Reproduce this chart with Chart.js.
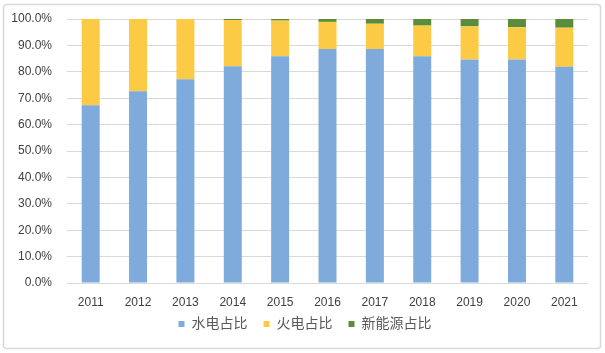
<!DOCTYPE html>
<html>
<head>
<meta charset="utf-8">
<script src="https://cdn.jsdelivr.net/npm/chart.js@4/dist/chart.umd.min.js"></script>
<style>
html,body{margin:0;padding:0;background:#fff;}
#wrap{position:relative;width:605px;height:353px;}
</style>
</head>
<body>
<div id="wrap"><canvas id="c" width="605" height="353"></canvas></div>
<script>
const years = ['2011','2012','2013','2014','2015','2016','2017','2018','2019','2020','2021'];
const hydroShare = [67.3, 72.6, 77.2, 82.1, 85.9, 88.6, 88.6, 85.9, 84.7, 84.7, 81.9];
const thermalShare = [32.7, 27.4, 22.8, 17.5, 13.5, 10.3, 9.6, 11.6, 12.5, 12.2, 14.8];
const newEnergyShare = [0, 0, 0, 0.4, 0.6, 1.1, 1.8, 2.5, 2.8, 3.1, 3.3];
const seriesNames = ['水电占比', '火电占比', '新能源占比'];
const yTicks = [0, 10, 20, 30, 40, 50, 60, 70, 80, 90, 100];

const framePlugin = {
  id: 'frame',
  beforeDraw(chart) {
    const ctx = chart.ctx;
    ctx.save();
    ctx.fillStyle = '#ffffff';
    ctx.fillRect(0, 0, chart.width, chart.height);
    ctx.strokeStyle = '#d9d9d9';
    ctx.lineWidth = 1.5;
    ctx.beginPath();
    ctx.roundRect(3.5, 4.5, 597, 344, 3);
    ctx.stroke();
    ctx.restore();
  },
  afterLayout(chart) {
    const lg = chart.legend;
    if (lg) {
      lg.left += 11; lg.right += 11;
      lg.top -= 12; lg.bottom -= 12;
    }
  }
};

const font = "'Liberation Sans', 'Noto Sans CJK SC', sans-serif";
const ds = (label, data, color) => ({
  label, data, backgroundColor: color, borderWidth: 0,
  barPercentage: 0.76, categoryPercentage: 0.5
});

new Chart(document.getElementById('c'), {
  type: 'bar',
  data: {
    labels: years,
    datasets: [
      ds(seriesNames[0], hydroShare, '#7eabdb'),
      ds(seriesNames[1], thermalShare, '#fdca45'),
      ds(seriesNames[2], newEnergyShare, '#5b8c3b')
    ]
  },
  options: {
    responsive: false,
    animation: false,
    devicePixelRatio: 1,
    layout: { padding: { left: 0, right: 17, top: 19, bottom: 0 } },
    plugins: {
      tooltip: { enabled: false },
      legend: {
        position: 'bottom',
        labels: {
          boxWidth: 6, boxHeight: 6, padding: 16,
          color: '#595959',
          font: { family: font, size: 14 }
        }
      }
    },
    scales: {
      x: {
        stacked: true,
        grid: { display: false, drawTicks: false },
        border: { display: false },
        ticks: { color: '#404040', padding: 12, font: { family: font, size: 12 }, maxRotation: 0 },
        afterFit(s) { s.height = 30; s.paddingTop = 0; s.paddingBottom = 0; }
      },
      y: {
        stacked: true,
        min: 0, max: 100,
        afterBuildTicks(s) { s.ticks = yTicks.map(v => ({ value: v })); },
        grid: { color: '#d9d9d9', lineWidth: 1, drawTicks: false },
        border: { display: false },
        ticks: {
          color: '#404040', padding: 15,
          font: { family: font, size: 12 },
          callback: v => v.toFixed(1) + '%'
        },
        afterFit(s) { s.width = 67; s.paddingTop = 0; s.paddingBottom = 0; }
      }
    }
  },
  plugins: [framePlugin]
});
</script>
</body>
</html>
